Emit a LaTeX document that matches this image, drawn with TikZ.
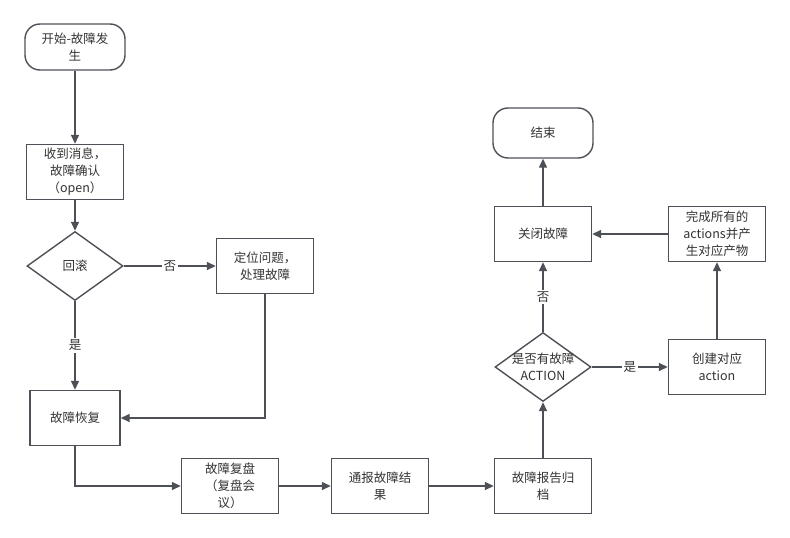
\documentclass[tikz,border=0pt]{standalone}
\usepackage{fontspec}
\setmainfont{Noto Sans CJK SC}
\usetikzlibrary{arrows.meta,positioning,shapes.geometric,calc}
\definecolor{linegray}{HTML}{4D5157}
\definecolor{textgray}{HTML}{333333}

\begin{document}
\begin{tikzpicture}[x=1pt,y=-1pt,->,>={Triangle[length=9pt,width=8pt]},
               line width=1.4pt,color=linegray,font=\fontsize{12.5}{17}\selectfont,
               main node/.style={rectangle,draw=linegray,text=textgray,align=center,minimum width=97pt,minimum height=55pt,inner sep=2pt},
               term node/.style={main node,rounded corners=15pt,minimum width=100pt,minimum height=46pt},
               test node/.style={diamond,draw=linegray,text=textgray,align=center,minimum width=96pt,minimum height=69pt,inner sep=-6pt},
               edge label/.style={fill=white,text=textgray,inner sep=2pt}]
  \useasboundingbox (0,0) rectangle (790,538);
  \node[term node] (1) at (75,47) {开始-故障发\\生};
  \node[main node] (2) [below of=1, node distance=125pt] {收到消息，\\故障确认\\（open）};
  \node[test node] (3) [below of=2, node distance=94pt] {回滚};
  \node[main node] (4) [right of=3, node distance=190pt] {定位问题，\\处理故障};
  \node[main node, minimum width=90pt] (5) [below of=3, node distance=152pt] {故障恢复};
  \node[main node] (6) at (230,486) {故障复盘\\（复盘会\\议）};
  \node[main node] (7) [right of=6, node distance=150pt] {通报故障结\\果};
  \node[main node] (8) [right of=7, node distance=163pt] {故障报告归\\档};
  \node[test node] (9) [above of=8, node distance=119pt] {是否有故障\\ACTION};
  \node[main node] (10) [right of=9, node distance=174pt] {创建对应\\action};
  \node[main node] (11) [above of=10, node distance=133pt] {完成所有的\\actions并产\\生对应产物};
  \node[main node] (12) [left of=11, node distance=174pt] {关闭故障};
  \node[term node, minimum height=50pt] (13) [above of=12, node distance=101pt] {结束};

  \path
    (1) edge (2)
    (2) edge (3)
    (3) edge node[edge label] {否} (4)
    (3) edge node[edge label] {是} (5)
    (6) edge (7)
    (7) edge (8)
    (8) edge (9)
    (9) edge node[edge label] {否} (12)
    (9) edge node[edge label] {是} (10)
    (10) edge (11)
    (11) edge (12)
    (12) edge (13)
  ;
  \draw (4) |- (5);
  \draw (5) |- (6);
\end{tikzpicture}
\end{document}
